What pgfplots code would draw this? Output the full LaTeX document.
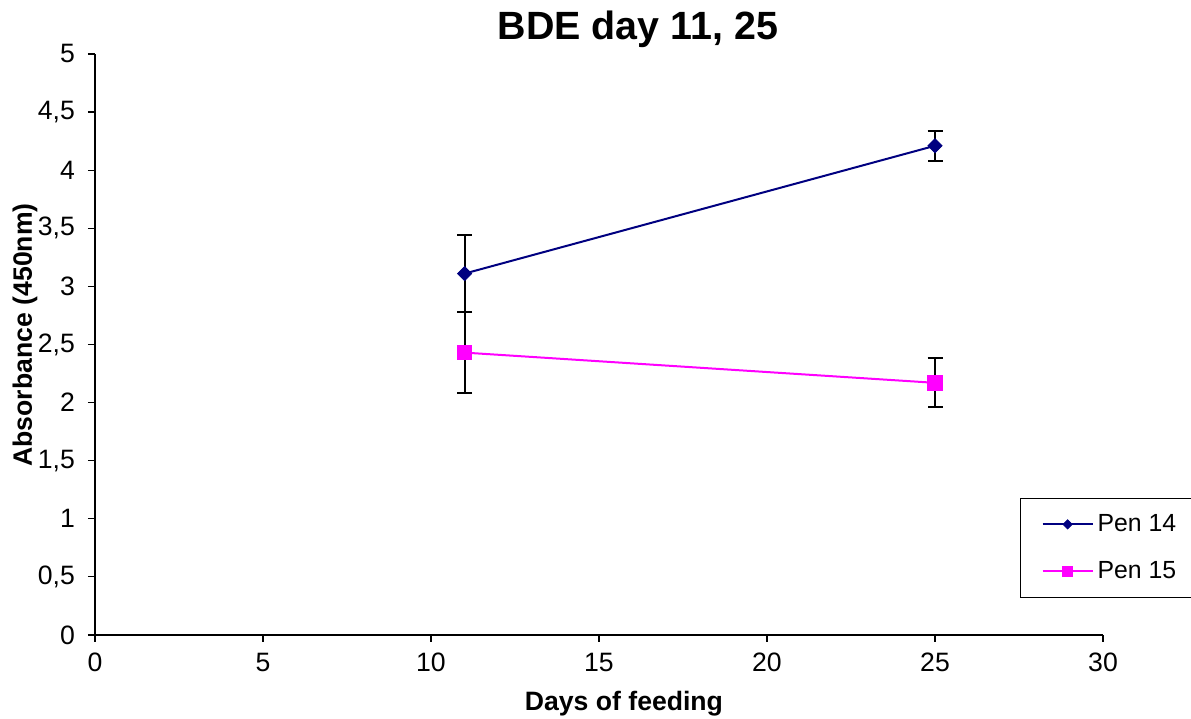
\documentclass[border=0pt]{standalone}
\usepackage{pgfplots}
\pgfplotsset{compat=1.18}
\usepackage{fontspec}
\setmainfont{Liberation Sans}
\definecolor{pennavy}{RGB}{0,0,128}
\definecolor{penmag}{RGB}{255,0,255}
\begin{document}
\begin{tikzpicture}
\begin{axis}[
  scale only axis,
  width=504pt, height=290.5pt,
  xmin=0, xmax=30, ymin=0, ymax=5,
  xtick={0,5,...,30},
  ytick={0,0.5,...,5},
  axis lines*=left,
  axis line style={black, line width=0.6pt},
  tick align=outside,
  major tick length=3.5pt,
  tick style={black, line width=0.6pt},
  /pgf/number format/.cd, use comma, fixed, assume math mode=true,
  /pgfplots/.cd,
  tick label style={font=\fontsize{13.3}{15}\selectfont},
  xticklabel style={yshift=-2pt},
  yticklabel style={xshift=-3pt},
  every axis title shift=0pt,
  title={\bfseries BDE day 11, 25},
  title style={font=\fontsize{19.7}{23}\selectfont, at={(rel axis cs:0.5387,1.0241)}, anchor=base},
  xlabel={\bfseries Days of feeding},
  ylabel={\bfseries Absorbance (450nm)},
  label style={font=\fontsize{13.3}{15}\selectfont},
  xlabel style={at={(rel axis cs:0.5248,-0.1291)}, anchor=base},
  ylabel style={at={(rel axis cs:-0.0694,0.5164)}, anchor=center},
  legend style={draw=black, line width=0.5pt, font=\fontsize{12.4}{14}\selectfont,
    at={(rel axis cs:0.9177,0.0637)}, anchor=south west,
    inner xsep=10.5pt, inner ysep=6pt, row sep=9.5pt},
  legend cell align=left,
  legend image code/.code={\draw[mark repeat=2, mark phase=2, every mark/.append style={scale=0.65}]
    plot coordinates {(0pt,0pt) (12.5pt,0pt) (25pt,0pt)};},
  clip=false,
]
\addplot[color=pennavy, line width=1pt, mark=square*, mark size=2.5pt,
  mark options={fill=pennavy, draw=pennavy, line width=0.4pt, rotate=45},
  error bars/.cd, y dir=both, y explicit,
  error bar style={black, line width=1pt},
  error mark options={rotate=90, black, mark size=3.75pt, line width=1pt}]
  table[x=x, y=y, y error=e] {
  x y e
  11 3.11 0.33
  25 4.21 0.127
  };
\addlegendentry{Pen 14}
\addplot[color=penmag, line width=1pt, mark=square*, mark size=3.6pt,
  mark options={fill=penmag, draw=penmag, line width=0.4pt},
  error bars/.cd, y dir=both, y explicit,
  error bar style={black, line width=1pt},
  error mark options={rotate=90, black, mark size=3.75pt, line width=1pt}]
  table[x=x, y=y, y error=e] {
  x y e
  11 2.43 0.35
  25 2.17 0.21
  };
\addlegendentry{Pen 15}
\coordinate (bl) at (rel axis cs:-0.0942,-0.1429);
\coordinate (tr) at (rel axis cs:1.0873,1.0929);
\end{axis}
\pgfresetboundingbox
\path[use as bounding box] (bl) rectangle (tr);
\end{tikzpicture}
\end{document}
